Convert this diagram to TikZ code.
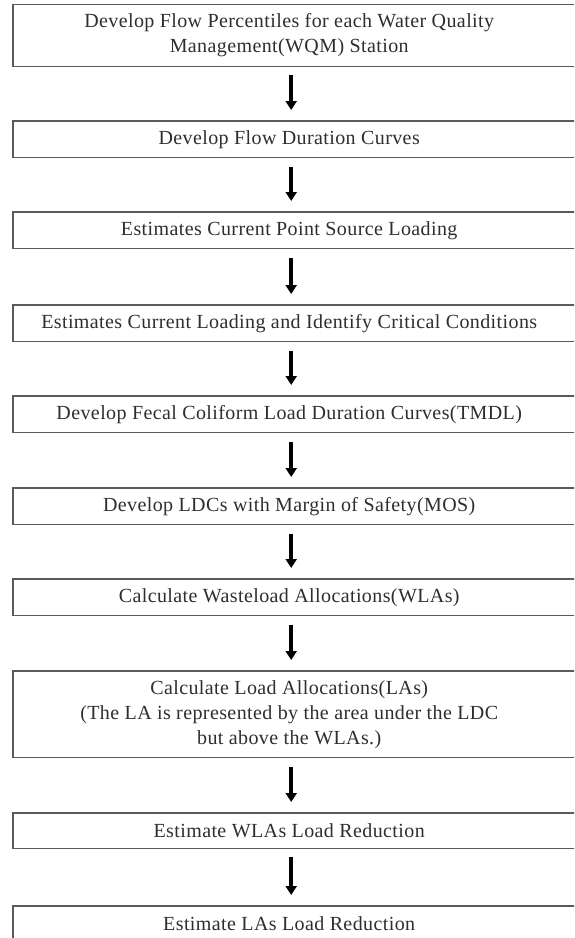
\documentclass[tikz,border=0pt]{standalone}
\usepackage{fontspec}
\setmainfont{Liberation Serif}
\usetikzlibrary{arrows.meta}
\definecolor{boxline}{HTML}{5A5A5A}
\definecolor{boxtext}{HTML}{2E2E2E}
\tikzset{
  stepbox/.style={anchor=north west,
    minimum width=552pt, minimum height=35pt, inner xsep=6pt, inner ysep=9pt,
    align=center, text=boxtext,
    font=\fontsize{20}{25}\selectfont\addfontfeature{LetterSpace=2},
    append after command={\pgfextra{\let\stepnode\tikzlastnode
      \draw[boxline, line width=1.2pt] (\stepnode.north west)
        rectangle ([xshift=20pt]\stepnode.south east);}}},
  flow/.style={-{Triangle[width=11pt,length=9pt]}, line width=3.5pt, black,
    shorten <=9pt, shorten >=11pt}
}

\begin{document}
\begin{tikzpicture}[x=1pt,y=-1pt]
  \useasboundingbox (0,0) rectangle (574,938);
  \clip (0,0) rectangle (574,938);

  \node[stepbox] (percentiles) at (13,4.5) {Develop Flow Percentiles for each Water Quality\\Management(WQM) Station};
  \node[stepbox] (fdc) at (13,121) {Develop Flow Duration Curves};
  \node[stepbox] (pointsrc) at (13,212) {Estimates Current Point Source Loading};
  \node[stepbox] (critical) at (13,305) {Estimates Current Loading and Identify Critical Conditions};
  \node[stepbox] (ldc) at (13,396) {Develop Fecal Coliform Load Duration Curves(TMDL)};
  \node[stepbox] (mos) at (13,488) {Develop LDCs with Margin of Safety(MOS)};
  \node[stepbox] (wla) at (13,579) {Calculate Wasteload Allocations(WLAs)};
  \node[stepbox] (la) at (13,671) {Calculate Load Allocations(LAs)\\(The LA is represented by the area under the LDC\\but above the WLAs.)};
  \node[stepbox] (wlared) at (13,813) {Estimate WLAs Load Reduction};
  \node[stepbox] (lared) at (13,906) {Estimate LAs Load Reduction};

  % arrows between the steps
  \draw[flow] ([xshift=2pt]percentiles.south) -- ([xshift=2pt]fdc.north);
  \draw[flow] ([xshift=2pt]fdc.south) -- ([xshift=2pt]pointsrc.north);
  \draw[flow] ([xshift=2pt]pointsrc.south) -- ([xshift=2pt]critical.north);
  \draw[flow] ([xshift=2pt]critical.south) -- ([xshift=2pt]ldc.north);
  \draw[flow] ([xshift=2pt]ldc.south) -- ([xshift=2pt]mos.north);
  \draw[flow] ([xshift=2pt]mos.south) -- ([xshift=2pt]wla.north);
  \draw[flow] ([xshift=2pt]wla.south) -- ([xshift=2pt]la.north);
  \draw[flow] ([xshift=2pt]la.south) -- ([xshift=2pt]wlared.north);
  \draw[flow] ([xshift=2pt]wlared.south) -- ([xshift=2pt]lared.north);
\end{tikzpicture}
\end{document}
